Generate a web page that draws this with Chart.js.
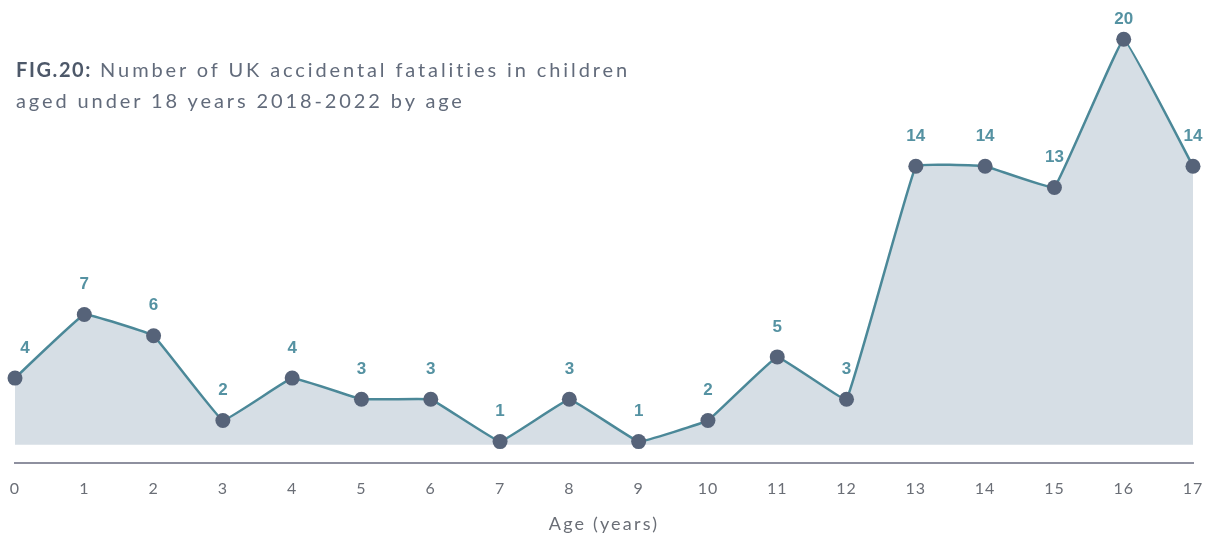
<!DOCTYPE html>
<html>
<head>
<meta charset="utf-8">
<script src="https://cdn.jsdelivr.net/npm/chart.js@4"></script>
<style>
    html, body { margin: 0; padding: 0; background: #ffffff; }
    #wrap { position: relative; width: 1208px; height: 538px; }
    #fatalChart { position: absolute; left: 0; top: 0; }
    .fig-title {
        position: absolute;
        left: 16px;
        top: 54px;
        font-family: 'Lato', 'Open Sans', sans-serif;
        font-size: 20px;
        line-height: 31px;
        letter-spacing: 2.9px;
        color: #626b7b;
    }
    .fig-title b { color: #4d5869; font-weight: 700; letter-spacing: 1.6px; }
</style>
</head>
<body>
<div id="wrap">
    <canvas id="fatalChart" width="1208" height="538"></canvas>
    <div class="fig-title"><b>FIG.20:</b> Number of UK accidental fatalities in children<br>aged under 18 years 2018-2022 by age</div>
</div>
<script>
// Ages 0-17 and fatality counts
const ages = ['0', '1', '2', '3', '4', '5', '6', '7', '8', '9', '10', '11', '12', '13', '14', '15', '16', '17'];
const fatalities = [4, 7, 6, 2, 4, 3, 3, 1, 3, 1, 2, 5, 3, 14, 14, 13, 20, 14];
const xTitle = 'Age (years)';

const colors = {
    line: '#4b8898',
    point: '#566379',
    fill: '#d6dee5',
    label: '#5592a2',
    axis: '#8e909f',
    tick: '#6a6e76'
};

// Wider letter spacing for tick labels
const spacedText = {
    id: 'spacedText',
    beforeDraw: function(chart) {
        chart.ctx.letterSpacing = '1px';
    }
};

// Value labels above each point, plus the x axis title
const valueLabels = {
    id: 'valueLabels',
    afterDatasetsDraw: function(chart) {
        const ctx = chart.ctx;
        const area = chart.chartArea;
        const meta = chart.getDatasetMeta(0);
        ctx.save();
        ctx.letterSpacing = '0px';
        ctx.font = 'bold 17px "Liberation Sans", Arial, sans-serif';
        ctx.fillStyle = colors.label;
        ctx.textAlign = 'center';
        ctx.textBaseline = 'middle';
        meta.data.forEach(function(pt, i) {
            const x = Math.max(pt.x, area.left + 10);
            const y = Math.max(pt.y - 30, 19);
            ctx.fillText(String(fatalities[i]), x, y);
        });

        ctx.letterSpacing = '2.2px';
        ctx.font = '18px Lato, sans-serif';
        ctx.fillStyle = colors.tick;
        ctx.fillText(xTitle, (area.left + area.right) / 2, 524);
        ctx.restore();
    }
};

const ctx = document.getElementById('fatalChart').getContext('2d');
new Chart(ctx, {
    type: 'line',
    data: {
        labels: ages,
        datasets: [{
            data: fatalities,
            borderColor: colors.line,
            borderWidth: 2.5,
            backgroundColor: colors.fill,
            fill: { value: 0.85 },
            tension: 0.06,
            pointRadius: 7.5,
            pointHoverRadius: 7.5,
            pointBackgroundColor: colors.point,
            pointBorderWidth: 0,
            clip: false
        }]
    },
    options: {
        responsive: false,
        animation: false,
        layout: {
            padding: { left: 15, right: 15, top: 18, bottom: 24 }
        },
        plugins: {
            legend: { display: false },
            tooltip: { enabled: false }
        },
        scales: {
            x: {
                offset: false,
                grid: { display: false, drawTicks: false },
                border: { display: true, color: colors.axis, width: 2 },
                ticks: {
                    padding: 16,
                    color: colors.tick,
                    font: { family: 'Lato', size: 16 },
                    maxRotation: 0,
                    autoSkip: false
                },
                afterFit: function(scale) {
                    scale.paddingLeft = 0;
                    scale.paddingRight = 0;
                }
            },
            y: {
                display: false,
                min: 0,
                max: 21
            }
        }
    },
    plugins: [spacedText, valueLabels]
});
</script>
</body>
</html>
